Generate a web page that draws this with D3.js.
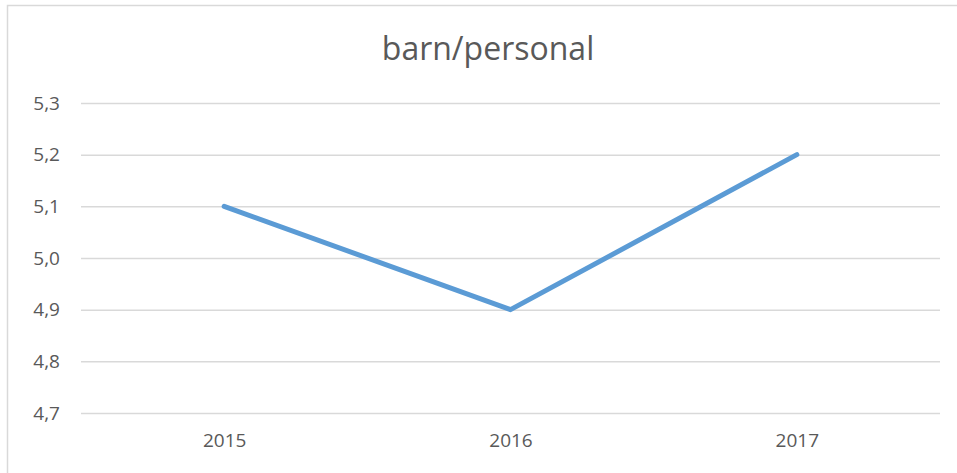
<!DOCTYPE html>
<html><head><meta charset="utf-8">
<script src="https://cdn.jsdelivr.net/npm/d3@7"></script>
<style>body{margin:0;background:#fff}svg{display:block}</style>
</head><body><div id="chart"></div>
<script>
const title = "barn/personal";
const categories = ["2015", "2016", "2017"];
const values = [5.1, 4.9, 5.2];
const yTicks = [4.7, 4.8, 4.9, 5.0, 5.1, 5.2, 5.3];

const W = 957, H = 473;
const svg = d3.select("#chart").append("svg").attr("width", W).attr("height", H);
svg.append("rect").attr("x", 7.5).attr("y", 5.5).attr("width", W + 20).attr("height", H + 20)
  .attr("fill", "#fff").attr("stroke", "#d9d9d9").attr("stroke-width", 1.5);

const x = d3.scalePoint().domain(categories).range([81, 940]).padding(0.5);
const y = d3.scaleLinear().domain([4.7, 5.3]).range([413, 103]);
const font = "'Open Sans', sans-serif";

svg.append("text").attr("x", 488).attr("y", 60).attr("text-anchor", "middle")
  .attr("font-family", font).attr("font-size", 32).attr("fill", "#595959").text(title);

const yAxis = svg.append("g").attr("transform", "translate(81,0)")
  .call(d3.axisLeft(y).tickValues(yTicks).tickSize(-(940 - 81)).tickPadding(21)
    .tickFormat(d => d3.format(".1f")(d).replace(".", ",")));
yAxis.select(".domain").remove();
yAxis.selectAll("line").attr("stroke", "#d9d9d9").attr("stroke-width", 1.5);
yAxis.selectAll("text").attr("font-family", font).attr("font-size", 19).attr("fill", "#595959");

const xAxis = svg.append("g").attr("transform", "translate(0,413)")
  .call(d3.axisBottom(x).tickSize(0).tickPadding(21));
xAxis.select(".domain").remove();
xAxis.selectAll("text").attr("font-family", font).attr("font-size", 19).attr("fill", "#595959");

const line = d3.line().x((d, i) => x(categories[i])).y(d => y(d));
svg.append("path").datum(values).attr("d", line).attr("fill", "none")
  .attr("stroke", "#5b9bd5").attr("stroke-width", 5).attr("stroke-linecap", "round").attr("stroke-linejoin", "round");
</script></body></html>
